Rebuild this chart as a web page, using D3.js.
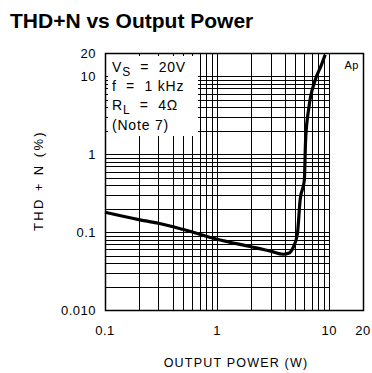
<!DOCTYPE html>
<html>
<head>
<meta charset="utf-8">
<script src="https://cdn.jsdelivr.net/npm/d3@7"></script>
<style>
body { margin: 0; background: #fff; }
svg text { font-family: "Liberation Sans", Arial, sans-serif; fill: #000; }
.title { font-size: 21px; font-weight: bold; }
.tick-label { font-size: 13px; letter-spacing: 0.5px; }
.axis-label { font-size: 12.5px; letter-spacing: 1.2px; }
.ylabel { font-size: 13px; letter-spacing: 2.4px; }
.note { font-size: 14px; letter-spacing: 0.8px; white-space: pre; }
.grid line { stroke: #000; stroke-width: 1.1; shape-rendering: crispEdges; }
</style>
</head>
<body>
<script>
// curve
var power = [0.1, 0.2, 0.3, 0.5, 1, 2, 3, 3.9, 4.4, 4.8, 5.2, 5.5, 6.0, 6.15, 6.6, 7.5, 8.5, 9.2];
var thd   = [0.18, 0.145, 0.13, 0.108, 0.081, 0.065, 0.057, 0.052, 0.054, 0.065, 0.095, 0.26, 0.47, 1.5, 4.1, 9, 14, 19];

var xTicks = [0.1, 1, 10, 20];
var xTickLabels = ["0.1", "1", "10", "20"];
var yTicks = [0.01, 0.1, 1, 10, 20];
var yTickLabels = ["0.010", "0.1", "1", "10", "20"];
var noteLines = ["f  =  1 kHz", "(Note 7)"];

var margin = { top: 53, right: 9, bottom: 63, left: 105 };
var width = 372 - margin.left - margin.right;
var height = 373 - margin.top - margin.bottom;

var svg = d3.select("body").append("svg")
    .attr("width", 372)
    .attr("height", 373);

svg.append("text")
    .attr("class", "title")
    .attr("x", 10)
    .attr("y", 28)
    .text("THD+N vs Output Power");

var g = svg.append("g")
    .attr("transform", "translate(" + margin.left + "," + margin.top + ")");

var x = d3.scaleLog().domain([0.1, 20]).range([0, width]);
var y = d3.scaleLog().domain([0.01, 20]).range([height, 0]);

// grid values: 1..9 in each decade up to 10
var xGrid = [], yGrid = [];
[0.1, 1].forEach(function(d) {
  for (var k = 1; k <= 9; k++) xGrid.push(d * k);
});
xGrid.push(10);
[0.01, 0.1, 1].forEach(function(d) {
  for (var k = 1; k <= 9; k++) yGrid.push(d * k);
});
yGrid.push(10);

// note box in the upper left
var boxW = x(0.68), boxH = y(1.7);

var grid = g.append("g").attr("class", "grid");
grid.selectAll(".vx").data(xGrid).enter().append("line")
    .attr("x1", function(d) { return Math.round(x(d)) + 0.5; })
    .attr("x2", function(d) { return Math.round(x(d)) + 0.5; })
    .attr("y1", function(d) { return x(d) < boxW ? boxH : 0; })
    .attr("y2", height);
grid.selectAll(".hy").data(yGrid).enter().append("line")
    .attr("y1", function(d) { return Math.round(y(d)) + 0.5; })
    .attr("y2", function(d) { return Math.round(y(d)) + 0.5; })
    .attr("x1", function(d) { return y(d) < boxH ? boxW : 0; })
    .attr("x2", x(10));

// short ticks on the box edges
grid.selectAll(".tx").data(xGrid.filter(function(d) { return x(d) < boxW && d > 0.1; }))
  .enter().append("line")
    .attr("x1", function(d) { return Math.round(x(d)) + 0.5; })
    .attr("x2", function(d) { return Math.round(x(d)) + 0.5; })
    .attr("y1", 0).attr("y2", 3);
grid.selectAll(".ty").data(yGrid.filter(function(d) { return y(d) < boxH; }))
  .enter().append("line")
    .attr("y1", function(d) { return Math.round(y(d)) + 0.5; })
    .attr("y2", function(d) { return Math.round(y(d)) + 0.5; })
    .attr("x1", 0).attr("x2", 3);

// frame
g.append("rect")
    .attr("x", 0.5).attr("y", 0.5)
    .attr("width", width).attr("height", height)
    .attr("fill", "none")
    .attr("stroke", "#000")
    .attr("stroke-width", 1.5);

// curve
var pts = power.map(function(p, i) { return [x(p), y(thd[i])]; });
g.append("path")
    .attr("d", d3.line().curve(d3.curveMonotoneX)(pts))
    .attr("fill", "none")
    .attr("stroke", "#000")
    .attr("stroke-width", 3.2)
    .attr("stroke-linejoin", "round");

// tick labels
g.selectAll(".xl").data(xTicks).enter().append("text")
    .attr("class", "tick-label")
    .attr("x", function(d) { return x(d); })
    .attr("y", height + 25)
    .attr("text-anchor", "middle")
    .text(function(d, i) { return xTickLabels[i]; });

g.selectAll(".yl").data(yTicks).enter().append("text")
    .attr("class", "tick-label")
    .attr("x", -9)
    .attr("y", function(d) { return y(d) + 5; })
    .attr("text-anchor", "end")
    .text(function(d, i) { return yTickLabels[i]; });

g.append("text")
    .attr("class", "axis-label")
    .attr("x", width / 2 + 2)
    .attr("y", height + 57)
    .attr("text-anchor", "middle")
    .text("OUTPUT POWER (W)");

g.append("text")
    .attr("class", "ylabel")
    .attr("transform", "rotate(-90)")
    .attr("x", -height / 2 + 1)
    .attr("y", -62)
    .attr("text-anchor", "middle")
    .text("THD + N (%)");

// conditions text
var vs = g.append("text").attr("class", "note").attr("x", 7).attr("y", 19);
vs.append("tspan").text("V");
vs.append("tspan").attr("dy", 4).style("font-size", "12px").text("S");
vs.append("tspan").attr("dy", -4).text("  =  20V");

g.append("text").attr("class", "note").attr("x", 7).attr("y", 38).text(noteLines[0]);

var rl = g.append("text").attr("class", "note").attr("x", 7).attr("y", 57);
rl.append("tspan").text("R");
rl.append("tspan").attr("dy", 4).style("font-size", "12px").text("L");
rl.append("tspan").attr("dy", -4).text("  =  4\u03A9");

g.append("text").attr("class", "note").attr("x", 7).attr("y", 77).text(noteLines[1]);

g.append("text")
    .attr("class", "tick-label")
    .attr("x", width - 4)
    .attr("y", 16)
    .attr("text-anchor", "end")
    .style("font-size", "11px")
    .text("Ap");
</script>
</body>
</html>
